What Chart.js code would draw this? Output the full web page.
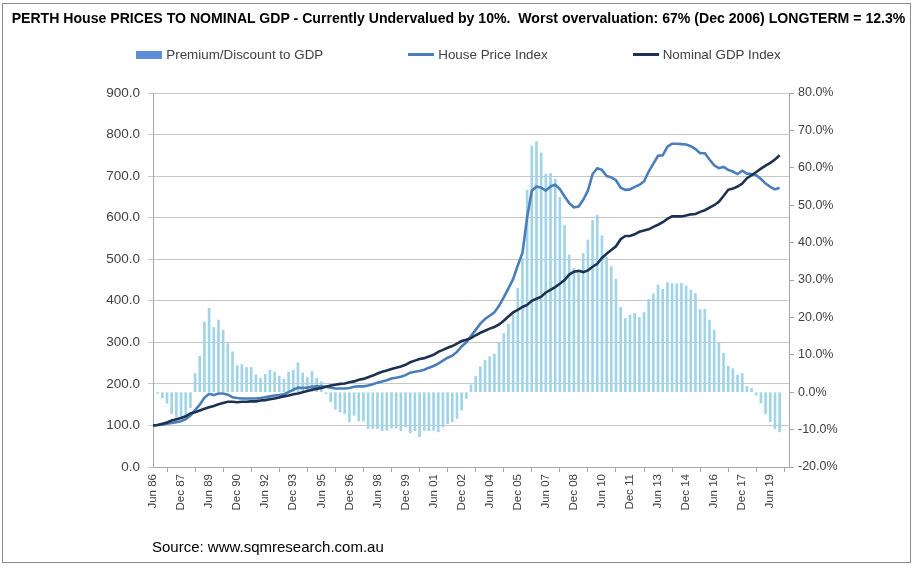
<!DOCTYPE html>
<html>
<head>
<meta charset="utf-8">
<title>Perth house prices to nominal GDP</title>
<script src="https://cdn.jsdelivr.net/npm/chart.js"></script>
<style>
  body { margin: 0; background: #fff; }
  #wrap { position: relative; width: 917px; height: 568px; overflow: hidden; }
  #frame { position: absolute; left: 2px; top: 3px; width: 907px; height: 558px; border: 1px solid #8c8c8c; }
  #title { position: absolute; left: 0; top: 10px; width: 917px; text-align: center; white-space: pre;
           font: bold 14.1px "Liberation Sans", Arial, sans-serif; color: #000; }
  #legend { position: absolute; left: 0; top: 47px; width: 917px; display: flex; justify-content: center; gap: 85px;
            font: 13.4px "Liberation Sans", Arial, sans-serif; color: #404040; }
  #legend .item { display: flex; align-items: center; }
  #legend .sw { display: inline-block; width: 26px; margin-right: 4px; }
  #source { position: absolute; left: 152px; top: 538px; font: 15px "Liberation Sans", Arial, sans-serif; color: #000; }
  canvas { position: absolute; left: 0; top: 0; }
</style>
</head>
<body>
<div id="wrap">
  <div id="frame"></div>
  <canvas id="chart" width="917" height="568"></canvas>
  <div id="title">PERTH House PRICES TO NOMINAL GDP - Currently Undervalued by 10%.  Worst overvaluation: 67% (Dec 2006) LONGTERM = 12.3%</div>
  <div id="legend"></div>
  <div id="source">Source: www.sqmresearch.com.au</div>
</div>
<script>
// quarterly categories Jun 86 .. Jun 20 (data stops at Dec 19)
const months = ['Mar', 'Jun', 'Sep', 'Dec'];
const quarters = [];
for (let y = 1986, q = 1; quarters.length < 137; ) {
    quarters.push(months[q] + ' ' + String(y % 100).padStart(2, '0'));
    q++;
    if (q == 4) { q = 0; y++; }
}

// Premium/Discount to GDP (%), right axis
const premium = [
    0, -0.3, -1.5, -3.0, -5.7, -6.6, -6.8, -6.2, -4.1, 5.0,
    9.6, 18.8, 22.4, 17.3, 19.3, 16.6, 13.0, 10.8, 7.1, 7.4,
    6.6, 6.6, 4.6, 3.7, 4.8, 5.9, 5.4, 4.3, 3.5, 5.4,
    5.9, 7.9, 5.2, 3.9, 5.6, 3.7, 2.8, -0.4, -2.6, -4.6,
    -5.3, -5.7, -7.9, -6.2, -7.7, -7.7, -9.7, -9.7, -9.7, -10.3,
    -10.2, -9.6, -9.6, -10.3, -9.3, -10.9, -10.3, -11.9, -10.2, -10.3,
    -10.2, -10.6, -9.3, -8.4, -7.9, -7.0, -4.8, -1.7, 2.0, 4.2,
    6.8, 8.5, 9.5, 10.2, 13.1, 15.7, 18.2, 20.6, 27.8, 35.8,
    54.0, 65.8, 67.0, 64.0, 58.3, 58.5, 57.0, 52.1, 44.6, 36.7,
    33.1, 32.0, 37.1, 40.7, 45.9, 47.3, 41.8, 36.1, 33.6, 30.2,
    22.7, 19.7, 20.6, 21.1, 20.0, 21.3, 24.8, 26.3, 28.7, 27.5,
    29.3, 29.0, 29.0, 29.1, 28.4, 27.3, 26.4, 22.1, 22.2, 19.3,
    16.6, 13.2, 10.4, 7.0, 6.3, 4.6, 5.0, 1.6, 1.0, -0.8,
    -2.9, -5.7, -7.9, -9.7, -10.6
];

// House Price Index, left axis
const hpi = [
    100, 101, 102, 104, 106, 108, 110, 115, 124, 137,
    150, 167, 176, 173, 177, 177, 174, 168, 166, 165,
    165, 165, 165, 166, 168, 170, 172, 173, 175, 180,
    186, 191, 190, 191, 193, 194, 194, 193, 191, 189,
    189, 189, 190, 193, 194, 194, 196, 199, 203, 206,
    209, 213, 215, 217, 221, 227, 229, 231, 234, 239,
    243, 249, 256, 263, 268, 277, 290, 300, 315, 330,
    345, 356, 364, 372, 388, 408, 430, 452, 485, 515,
    600, 665, 675, 672, 665, 675, 679, 669, 651, 635,
    625, 627, 643, 665, 705, 719, 715, 700, 697, 690,
    672, 667, 668, 674, 679, 687, 711, 730, 749, 750,
    771, 778, 778, 777, 776, 772, 765, 755, 755, 740,
    726, 719, 722, 715, 711, 705, 713, 706, 705, 702,
    693, 682, 674, 668, 672
];

// Nominal GDP Index, left axis
const gdp = [
    100, 101, 104, 107, 112, 115, 118, 122, 129, 132,
    136, 140, 144, 147, 151, 154, 157, 157, 156, 157,
    157, 158, 158, 160, 161, 163, 165, 167, 170, 172,
    175, 177, 180, 183, 186, 188, 190, 193, 196, 198,
    200, 201, 204, 206, 210, 212, 216, 220, 225, 229,
    232, 236, 239, 242, 246, 252, 256, 260, 262, 266,
    270, 277, 282, 287, 291, 297, 303, 306, 310, 317,
    323, 328, 333, 337, 343, 352, 362, 372, 378, 385,
    390, 400, 405, 410, 420, 426, 433, 441, 450, 463,
    470, 472, 469, 473, 482, 489, 503, 513, 522, 531,
    548, 556, 556, 560, 566, 569, 572, 578, 583, 589,
    597, 603, 603, 603, 605, 608, 609, 614, 618, 624,
    630, 638, 652, 667, 670, 675, 682, 695, 702, 710,
    718, 725, 732, 740, 750
];

const seriesNames = ['Premium/Discount to GDP', 'House Price Index', 'Nominal GDP Index'];
const barColor = '#a0d4e6';
const hpiColor = '#4a7ebb';
const gdpColor = '#1d3150';
const textColor = '#404040';
const axisColor = '#a6a6a6';

// legend in html, spaced like the excel one
const legend = document.getElementById('legend');
[[seriesNames[0], '#5b8fd6', 8], [seriesNames[1], hpiColor, 3], [seriesNames[2], gdpColor, 3]].forEach(function (l) {
    const d = document.createElement('div');
    d.className = 'item';
    d.innerHTML = '<span class="sw" style="height:' + l[2] + 'px;background:' + l[1] + '"></span>' + l[0];
    legend.appendChild(d);
});

const ctx = document.getElementById('chart');
new Chart(ctx, {
    data: {
        labels: quarters,
        datasets: [
            {type: 'line', label: seriesNames[2], data: gdp, yAxisID: 'y', borderColor: gdpColor, borderWidth: 2.6, pointRadius: 0, order: 0},
            {type: 'line', label: seriesNames[1], data: hpi, yAxisID: 'y', borderColor: hpiColor, borderWidth: 2.6, pointRadius: 0, order: 1},
            {type: 'bar', label: seriesNames[0], data: premium, yAxisID: 'y1', backgroundColor: barColor, barThickness: 2, order: 2}
        ]
    },
    options: {
        responsive: false,
        animation: false,
        layout: {padding: {top: 93, left: 0, right: 0, bottom: 0}},
        plugins: {legend: {display: false}, tooltip: {enabled: false}},
        scales: {
            x: {
                offset: false,
                grid: {drawOnChartArea: false, tickLength: 5, color: axisColor},
                border: {color: axisColor},
                ticks: {
                    autoSkip: false, minRotation: 90, maxRotation: 90, padding: 2,
                    color: textColor, font: {family: 'Liberation Sans', size: 11.5},
                    callback: function (v, i) { return i % 6 === 0 ? quarters[i] : null; }
                },
                afterFit: function (s) { s.height = 101; }
            },
            y: {
                position: 'left', min: 0, max: 900,
                grid: {color: '#c6c6c6', tickLength: 5},
                border: {color: axisColor},
                ticks: {stepSize: 100, padding: 8, color: textColor, font: {family: 'Liberation Sans', size: 13.5},
                        callback: function (v) { return v.toFixed(1); }},
                afterFit: function (s) { s.width = 153; }
            },
            y1: {
                position: 'right', min: -20, max: 80,
                grid: {drawOnChartArea: false, tickLength: 5, color: axisColor},
                border: {color: axisColor},
                ticks: {stepSize: 10, padding: 4, color: textColor, font: {family: 'Liberation Sans', size: 12.5},
                        callback: function (v) { return v.toFixed(1) + '%'; }},
                afterFit: function (s) { s.width = 128; }
            }
        }
    }
});
</script>
</body>
</html>
